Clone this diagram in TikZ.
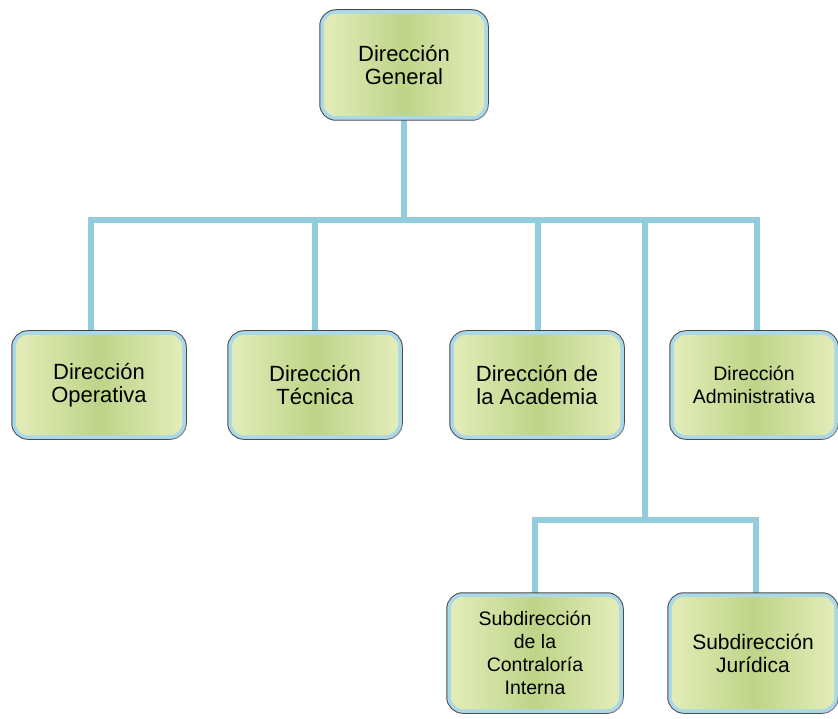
\documentclass[tikz,border=0pt]{standalone}
\usepackage{fontspec}
\setmainfont{Liberation Sans}
\usetikzlibrary{shadows,backgrounds}
\definecolor{linkblue}{RGB}{147,205,221}
\definecolor{rimblue}{RGB}{170,216,232}
\definecolor{edgegreen}{RGB}{228,237,186}
\definecolor{midgreen}{RGB}{190,212,136}
\definecolor{outline}{RGB}{70,70,70}
\tikzset{
  orgbox/.style={rounded corners=14pt, align=center, inner sep=2pt,
    shading=axis, left color=edgegreen, right color=edgegreen, middle color=midgreen,
    preaction={draw=outline, line width=5.5pt},
    draw=rimblue, line width=3.5pt,
    drop shadow={shadow xshift=2pt, shadow yshift=-2pt, fill=black!35, opacity=0.6},
    font=\fontsize{22}{23}\selectfont},
  small/.style={font=\fontsize{19.5}{23}\selectfont},
  link/.style={draw=linkblue, line width=6pt, line join=miter}
}
\begin{document}
\begin{tikzpicture}[x=1pt,y=-1pt]
\useasboundingbox (0,0) rectangle (838,719);
\coordinate (bus) at (0,220);
\coordinate (j1) at (91,220);
\coordinate (j2) at (315,220);
\coordinate (j3) at (538,220);
\coordinate (j5) at (645,220);
\coordinate (j4) at (757,220);
\coordinate (k0) at (645,520);
\coordinate (k1) at (535,520);
\coordinate (k2) at (756,520);

\node[orgbox, minimum width=164pt, minimum height=106pt] (DG) at (404,65) {Dirección\\General};
\node[orgbox, minimum width=170pt, minimum height=104pt] (DO) at (99,385) {Dirección\\Operativa};
\node[orgbox, minimum width=170pt, minimum height=104pt] (DT) at (315,385) {Dirección\\Técnica};
\node[orgbox, minimum width=170pt, minimum height=104pt] (DA) at (537,385) {Dirección de\\la Academia};
\node[orgbox, small, minimum width=164pt, minimum height=104pt] (DM) at (754,385) {Dirección\\Administrativa};
\node[orgbox, small, minimum width=172pt, minimum height=116pt] (SC) at (535,653) {Subdirección\\de la\\Contraloría\\Interna};
\node[orgbox, font=\fontsize{21}{23}\selectfont, minimum width=166pt, minimum height=116pt] (SJ) at (753,653) {Subdirección\\Jurídica};

\begin{scope}[on background layer]
\draw[link] (DG.south) -- (DG.south |- bus);
\draw[link] (j1 |- DO.north) -- (j1) -- (j4) -- (j4 |- DM.north);
\draw[link] (j2) -- (j2 |- DT.north);
\draw[link] (j3) -- (j3 |- DA.north);
\draw[link] (j5) -- (k0);
\draw[link] (k1 |- SC.north) -- (k1) -- (k2) -- (k2 |- SJ.north);
\end{scope}
\end{tikzpicture}
\end{document}
